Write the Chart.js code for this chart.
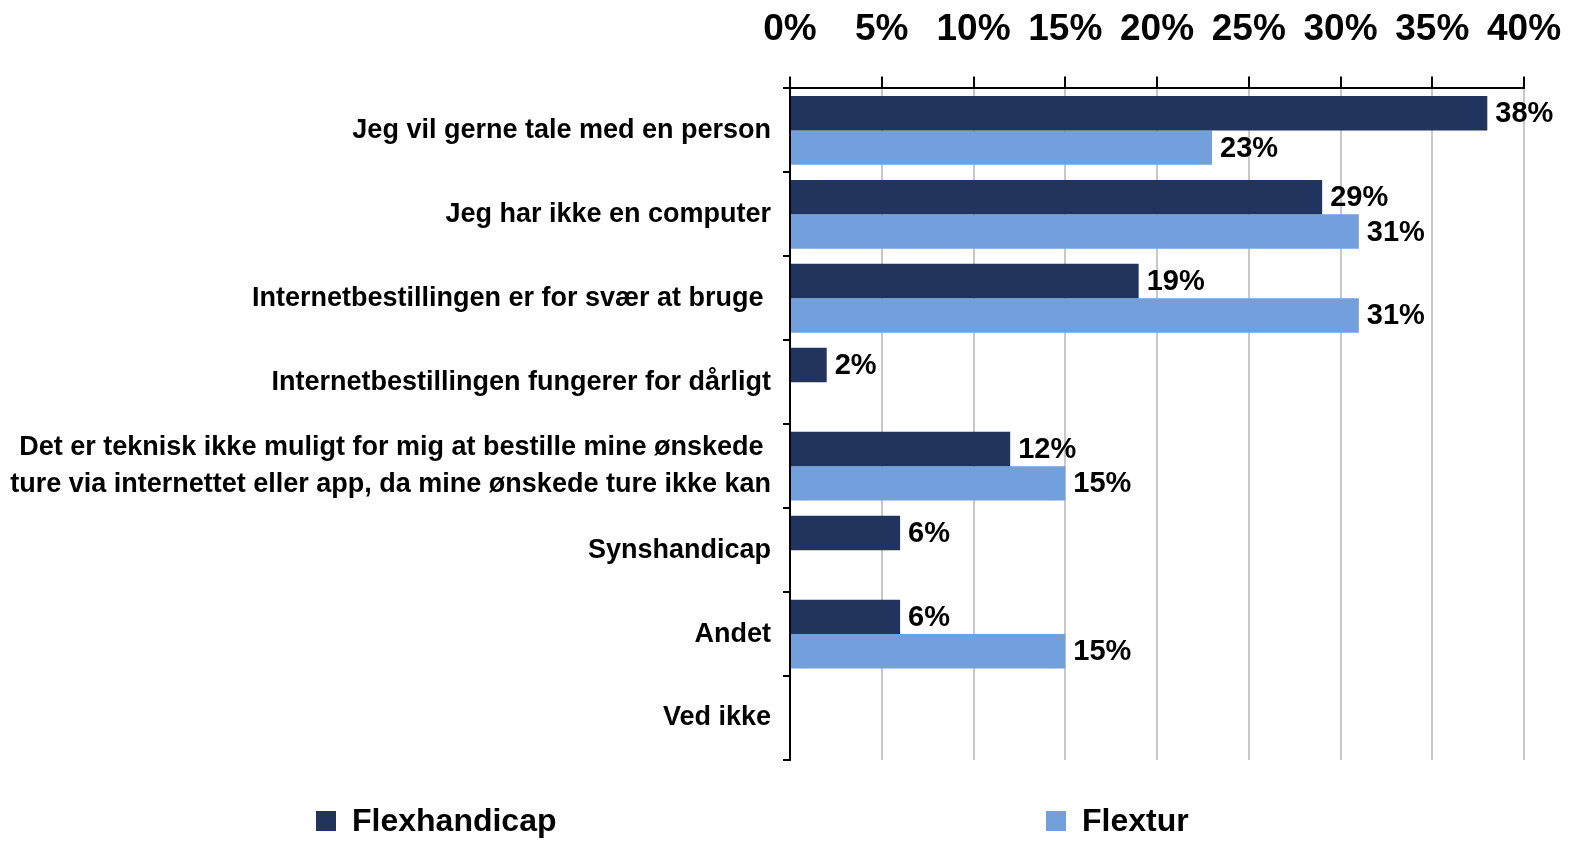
<!DOCTYPE html>
<html>
<head>
<meta charset="utf-8">
<script src="https://cdn.jsdelivr.net/npm/chart.js@4/dist/chart.umd.min.js"></script>
<style>
    html, body { margin: 0; padding: 0; background: #fff; }
    #wrap { position: relative; width: 1577px; height: 841px; }
    #legend { position: absolute; left: 0; top: 802px; width: 1577px; height: 44px; font-family: 'Liberation Sans Narrow', 'Liberation Sans', Arial, sans-serif; font-weight: bold; font-size: 32px; color: #000; }
    .leg-item { position: absolute; top: 0; display: flex; align-items: center; }
    .leg-box { width: 20px; height: 20px; margin-right: 16px; }
</style>
</head>
<body>
<div id="wrap">
    <canvas id="chart" width="1577" height="841"></canvas>
    <div id="legend"></div>
</div>
<script>
// Categories and series (values in %)
const categories = [
    'Jeg vil gerne tale med en person',
    'Jeg har ikke en computer',
    'Internetbestillingen er for svær at bruge ',
    'Internetbestillingen fungerer for dårligt',
    ['Det er teknisk ikke muligt for mig at bestille mine ønskede ', 'ture via internettet eller app, da mine ønskede ture ikke kan'],
    'Synshandicap',
    'Andet',
    'Ved ikke'
];
const flexhandicap = [38, 29, 19, 2, 12, 6, 6, null];
const flextur = [23, 31, 31, null, 15, null, 15, null];
const seriesNames = ['Flexhandicap', 'Flextur'];
const seriesColors = ['#20345E', '#71A0DC'];
const axisMax = 40;
const axisStep = 5;

const narrow = "'Liberation Sans Narrow', 'Liberation Sans', Arial, sans-serif";
const regular = "'Liberation Sans', Arial, sans-serif";

// draws the value labels just after each bar end
const valueLabels = {
    id: 'valueLabels',
    afterDatasetsDraw(chart) {
        const ctx = chart.ctx;
        ctx.save();
        ctx.font = 'bold 29px ' + narrow;
        ctx.fillStyle = '#000';
        ctx.textAlign = 'left';
        ctx.textBaseline = 'middle';
        chart.data.datasets.forEach((ds, i) => {
            const meta = chart.getDatasetMeta(i);
            meta.data.forEach((bar, j) => {
                const v = ds.data[j];
                if (v === null || v === undefined) return;
                ctx.fillText(v + '%', bar.x + 8, bar.y + 1);
            });
        });
        ctx.restore();
    }
};

const chart = new Chart(document.getElementById('chart'), {
    type: 'bar',
    data: {
        labels: categories,
        datasets: [
            { label: seriesNames[0], data: flexhandicap, backgroundColor: seriesColors[0] },
            { label: seriesNames[1], data: flextur, backgroundColor: seriesColors[1] }
        ]
    },
    options: {
        indexAxis: 'y',
        responsive: false,
        animation: false,
        categoryPercentage: 0.82,
        barPercentage: 1,
        layout: { padding: { top: -16, right: 53, bottom: 81, left: 10 } },
        plugins: {
            legend: { display: false },
            tooltip: { enabled: false }
        },
        scales: {
            x: {
                position: 'top',
                min: 0,
                max: axisMax,
                ticks: {
                    stepSize: axisStep,
                    callback: v => v + '%',
                    color: '#000',
                    font: { family: narrow, size: 37, weight: 'bold' },
                    padding: 24,
                    maxRotation: 0
                },
                grid: {
                    color: '#C8C8C8',
                    lineWidth: 2,
                    tickColor: '#000',
                    tickLength: 12
                },
                border: { color: '#000', width: 2 },
                // let the last tick label hang past the plot, like the original
                afterFit(scale) { scale.paddingRight = 0; scale.paddingLeft = 0; }
            },
            y: {
                ticks: {
                    color: '#000',
                    font: { family: regular, size: 27, weight: 'bold', lineHeight: 1.37 },
                    padding: 12
                },
                grid: {
                    drawOnChartArea: false,
                    tickColor: '#000',
                    tickLength: 7,
                    lineWidth: 2
                },
                border: { color: '#000', width: 2 },
                afterFit(scale) { scale.width = 780; }
            }
        }
    },
    plugins: [valueLabels]
});

// legend below the chart, spread like the original
const legend = document.getElementById('legend');
const legendX = [316, 1046];
seriesNames.forEach((name, i) => {
    const item = document.createElement('div');
    item.className = 'leg-item';
    item.style.left = legendX[i] + 'px';
    item.innerHTML = '<span class="leg-box" style="background:' + seriesColors[i] + '"></span><span>' + name + '</span>';
    legend.appendChild(item);
});
</script>
</body>
</html>
